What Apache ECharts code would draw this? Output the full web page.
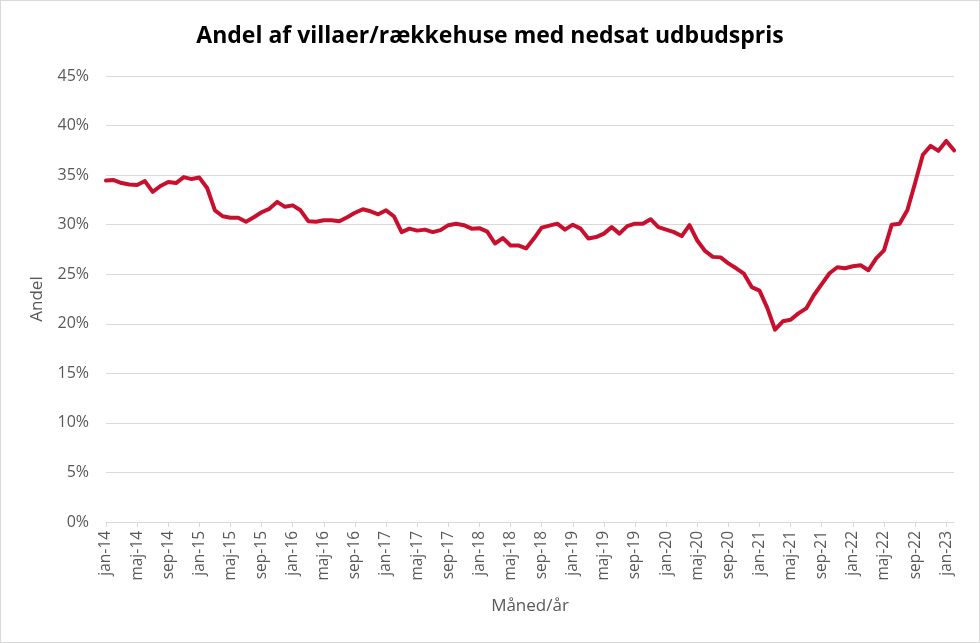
<!DOCTYPE html>
<html>
<head>
<meta charset="utf-8">
<script src="https://cdn.jsdelivr.net/npm/echarts@6/dist/echarts.min.js"></script>
<style>
  html, body { margin: 0; padding: 0; background: #fff; }
  #chart { width: 980px; height: 643px; box-sizing: border-box; border: 1px solid #d9d9d9; }
</style>
</head>
<body>
<div id="chart"></div>
<script>
// Danish month abbreviations and years used for the category labels
const monthNames = ['jan','feb','mar','apr','maj','jun','jul','aug','sep','okt','nov','dec'];
const years = ['14','15','16','17','18','19','20','21','22','23'];
const monthCount = 110; // jan-14 .. feb-23

// Share of houses with reduced asking price (%)
const shareValues = [
  34.45, 34.5, 34.2, 34.05, 34.0, 34.4, 33.3, 33.9, 34.3, 34.2, 34.8, 34.6,   // 2014
  34.75, 33.7, 31.45, 30.85, 30.7, 30.7, 30.3, 30.75, 31.25, 31.6, 32.3, 31.8, // 2015
  31.95, 31.45, 30.35, 30.3, 30.45, 30.45, 30.35, 30.75, 31.2, 31.55, 31.35, 31.05, // 2016
  31.45, 30.85, 29.25, 29.6, 29.4, 29.5, 29.25, 29.45, 29.95, 30.1, 29.95, 29.6, // 2017
  29.65, 29.3, 28.1, 28.65, 27.9, 27.9, 27.6, 28.6, 29.7, 29.9, 30.1, 29.5,     // 2018
  30.0, 29.6, 28.6, 28.75, 29.1, 29.75, 29.1, 29.85, 30.1, 30.1, 30.55, 29.75,  // 2019
  29.5, 29.25, 28.85, 29.95, 28.4, 27.35, 26.75, 26.7, 26.1, 25.6, 25.05, 23.7, // 2020
  23.35, 21.6, 19.4, 20.25, 20.4, 21.05, 21.55, 22.9, 24.0, 25.1, 25.7, 25.6,   // 2021
  25.8, 25.9, 25.4, 26.6, 27.4, 30.0, 30.1, 31.45, 34.2, 37.05, 37.95, 37.45,   // 2022
  38.45, 37.5                                                                  // 2023
];

const yTicks = { min: 0, max: 45, interval: 5 };

const categories = [];
for (let i = 0; i < monthCount; i++) {
  categories.push(monthNames[i % 12] + '-' + years[Math.floor(i / 12)]);
}

const grey = '#595959';
const font = 'Open Sans';

const chart = echarts.init(document.getElementById('chart'), null, { renderer: 'canvas' });
chart.setOption({
  animation: false,
  backgroundColor: '#ffffff',
  title: {
    text: 'Andel af villaer/rækkehuse med nedsat udbudspris',
    left: 'center',
    top: 19,
    textStyle: { fontFamily: font, fontWeight: 'bold', fontSize: 23, color: '#000000' }
  },
  grid: { left: 105, right: 25, top: 75, bottom: 120, containLabel: false },
  xAxis: {
    type: 'category',
    data: categories,
    boundaryGap: false,
    name: 'Måned/år',
    nameLocation: 'middle',
    nameGap: 76,
    nameTextStyle: { fontFamily: font, fontSize: 17, color: grey },
    axisLine: { show: true, lineStyle: { color: '#d9d9d9', width: 1 } },
    axisTick: { show: true, interval: 3, length: 5, lineStyle: { color: '#d9d9d9' } },
    axisLabel: {
      interval: 3, rotate: 90, margin: 9,
      fontFamily: font, fontSize: 15.5, color: grey
    },
    splitLine: { show: false }
  },
  yAxis: {
    type: 'value',
    min: yTicks.min, max: yTicks.max, interval: yTicks.interval,
    name: 'Andel',
    nameLocation: 'middle',
    nameGap: 60,
    nameRotate: 90,
    nameTextStyle: { fontFamily: font, fontSize: 17, color: grey },
    axisLine: { show: false },
    axisTick: { show: false },
    axisLabel: { formatter: '{value}%', margin: 17, fontFamily: font, fontSize: 16, color: grey },
    splitLine: { show: true, lineStyle: { color: '#d9d9d9', width: 1 } }
  },
  series: [{
    type: 'line',
    data: shareValues,
    showSymbol: false,
    symbol: 'none',
    lineStyle: { color: '#c8102e', width: 4, join: 'round', cap: 'round' },
    itemStyle: { color: '#c8102e' }
  }]
});
</script>
</body>
</html>
